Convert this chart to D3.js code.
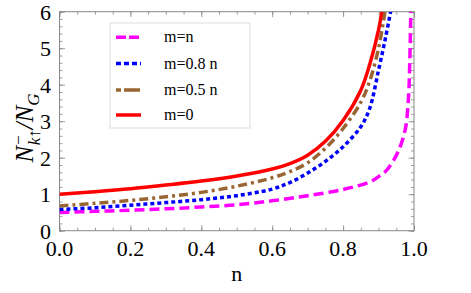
<!DOCTYPE html>
<html>
  <head>
    <meta charset="utf-8">
    <style>
    body { margin: 0; background: #fff; }
    </style>
  </head>
  <body>
    <script src="https://d3js.org/d3.v7.min.js"></script>
    <script>

    // values: [n, N/NG]
    var mEqN = [[0,0.50],[0.1,0.53],[0.2,0.56],[0.3,0.60],[0.4,0.65],[0.5,0.71],[0.6,0.82],[0.7,0.96],
                [0.8,1.13],[0.876,1.34],[0.9,1.48],[0.923,1.66],[0.953,2.12],[0.975,2.76],[0.984,3.58],[0.988,4.6],[0.991,6.0]];
    var m08 = [[0,0.58],[0.1,0.63],[0.2,0.70],[0.3,0.77],[0.4,0.85],[0.5,0.96],[0.6,1.14],[0.65,1.32],[0.7,1.58],[0.75,1.90],
               [0.8,2.30],[0.85,2.85],[0.875,3.35],[0.9,4.4],[0.92,5.3],[0.934,6.0]];
    var m05 = [[0,0.68],[0.1,0.75],[0.2,0.83],[0.3,0.93],[0.4,1.05],[0.5,1.22],[0.6,1.45],[0.65,1.62],[0.7,1.86],[0.75,2.26],
               [0.8,2.80],[0.85,3.52],[0.875,4.1],[0.9,5.0],[0.918,6.0]];
    var m0 = [[0,1.0],[0.1,1.07],[0.2,1.15],[0.3,1.25],[0.4,1.36],[0.5,1.50],[0.6,1.69],[0.65,1.84],[0.7,2.07],[0.75,2.45],
              [0.8,3.02],[0.85,3.85],[0.875,4.55],[0.9,5.5],[0.909,6.0]];

    var seriesNames = ["m=n", "m=0.8 n", "m=0.5 n", "m=0"];
    var seriesData = [mEqN, m08, m05, m0];
    var seriesColors = ["#ff00ff", "#0000ff", "#996633", "#ff0000"];
    var seriesDash = ["10,5", "4,3", "9,4,3,4", null];
    var legendDash = ["10,3", "5,3", "5,3,11,0", null];

    var xTicks = [0, 0.2, 0.4, 0.6, 0.8, 1.0];
    var yTicks = [0, 1, 2, 3, 4, 5, 6];

    var width = 471, height = 293;
    var plotL = 59.5, plotR = 414, plotT = 11.7, plotB = 230.7;
    var serif = "'Liberation Serif'";

    var svg = d3.select("body").append("svg")
        .attr("width", width)
        .attr("height", height);

    var x = d3.scaleLinear().domain([0, 1]).range([plotL, plotR]);
    var y = d3.scaleLinear().domain([0, 6]).range([plotB, plotT]);

    svg.append("defs").append("clipPath").attr("id", "clip")
      .append("rect")
        .attr("x", plotL).attr("y", plotT)
        .attr("width", plotR - plotL).attr("height", plotB - plotT);

    // frame ticks (inward, all four sides)
    var xMinor = d3.range(0, 1.0001, 0.05);
    var yMinor = d3.range(0, 6.0001, 0.2);
    var tickCol = "#888";

    function drawTicks(g, axisFn, vals, len) {
      g.call(axisFn.tickValues(vals).tickSize(len).tickFormat(""))
        .call(function (s) { s.select(".domain").remove(); })
        .selectAll("line").attr("stroke", tickCol).attr("stroke-width", 0.8);
    }

    var gB = svg.append("g").attr("transform", "translate(0," + plotB + ")");
    drawTicks(gB.append("g"), d3.axisTop(x), xMinor, 3);
    drawTicks(gB.append("g"), d3.axisTop(x), xTicks, 5.5);
    var gT = svg.append("g").attr("transform", "translate(0," + plotT + ")");
    drawTicks(gT.append("g"), d3.axisBottom(x), xMinor, 3);
    drawTicks(gT.append("g"), d3.axisBottom(x), xTicks, 5.5);
    var gL = svg.append("g").attr("transform", "translate(" + plotL + ",0)");
    drawTicks(gL.append("g"), d3.axisRight(y), yMinor, 3);
    drawTicks(gL.append("g"), d3.axisRight(y), yTicks, 5.5);
    var gR = svg.append("g").attr("transform", "translate(" + plotR + ",0)");
    drawTicks(gR.append("g"), d3.axisLeft(y), yMinor, 3);
    drawTicks(gR.append("g"), d3.axisLeft(y), yTicks, 5.5);

    svg.append("rect")
        .attr("x", plotL).attr("y", plotT)
        .attr("width", plotR - plotL).attr("height", plotB - plotT)
        .attr("fill", "none").attr("stroke", tickCol).attr("stroke-width", 1);

    // tick labels
    svg.append("g").selectAll("text")
      .data(xTicks)
      .enter().append("text")
        .attr("x", function (d) { return x(d); })
        .attr("y", plotB + 25.5)
        .attr("text-anchor", "middle")
        .style("font-family", serif)
        .style("font-size", "22px")
        .text(function (d) { return d3.format(".1f")(d); });

    svg.append("g").selectAll("text")
      .data(yTicks)
      .enter().append("text")
        .attr("x", 51)
        .attr("y", function (d) { return y(d) + 8; })
        .attr("text-anchor", "end")
        .style("font-family", serif)
        .style("font-size", "22px")
        .text(function (d) { return d; });

    // axis titles
    svg.append("text")
        .attr("x", (plotL + plotR) / 2)
        .attr("y", 281)
        .attr("text-anchor", "middle")
        .style("font-family", serif)
        .style("font-size", "22px")
        .text("n");

    var yt = svg.append("text")
        .attr("transform", "translate(33,128) rotate(-90)")
        .attr("text-anchor", "middle")
        .style("font-family", serif)
        .style("font-size", "25px")
        .style("font-style", "italic");
    yt.append("tspan").text("N");
    yt.append("tspan").attr("dx", 1).attr("dy", -9).style("font-size", "17px").style("font-style", "normal").text("\u2212");
    yt.append("tspan").attr("dx", -10).attr("dy", 16).style("font-size", "17px").text("k\u2191");
    yt.append("tspan").attr("dy", -7).text("/N");
    yt.append("tspan").attr("dy", 6).style("font-size", "17px").text("G");

    // curves
    var line = d3.line()
        .x(function (d) { return x(d[0]); })
        .y(function (d) { return y(d[1]); })
        .curve(d3.curveCatmullRom.alpha(0.5));

    svg.append("g").attr("clip-path", "url(#clip)")
      .selectAll("path")
      .data(seriesData)
      .enter().append("path")
        .attr("d", line)
        .attr("fill", "none")
        .attr("stroke", function (d, i) { return seriesColors[i]; })
        .attr("stroke-width", 3.5)
        .attr("stroke-dasharray", function (d, i) { return seriesDash[i]; });

    // legend
    var lg = svg.append("g");
    lg.append("rect")
        .attr("x", 110).attr("y", 23)
        .attr("width", 140).attr("height", 105)
        .attr("fill", "#fff").attr("stroke", "#ddd").attr("stroke-width", 1);

    var rowY = [37.3, 63.5, 90, 115];
    var items = lg.selectAll("g.item")
      .data(seriesNames)
      .enter().append("g").attr("class", "item")
        .attr("transform", function (d, i) { return "translate(0," + rowY[i] + ")"; });
    items.append("line")
        .attr("x1", 116).attr("x2", 141)
        .attr("stroke", function (d, i) { return seriesColors[i]; })
        .attr("stroke-width", 3.5)
        .attr("stroke-dasharray", function (d, i) { return legendDash[i]; });
    items.append("text")
        .attr("x", 164)
        .attr("y", 5)
        .style("font-family", serif)
        .style("font-size", "16px")
        .text(function (d) { return d; });

    </script>
  </body>
</html>
